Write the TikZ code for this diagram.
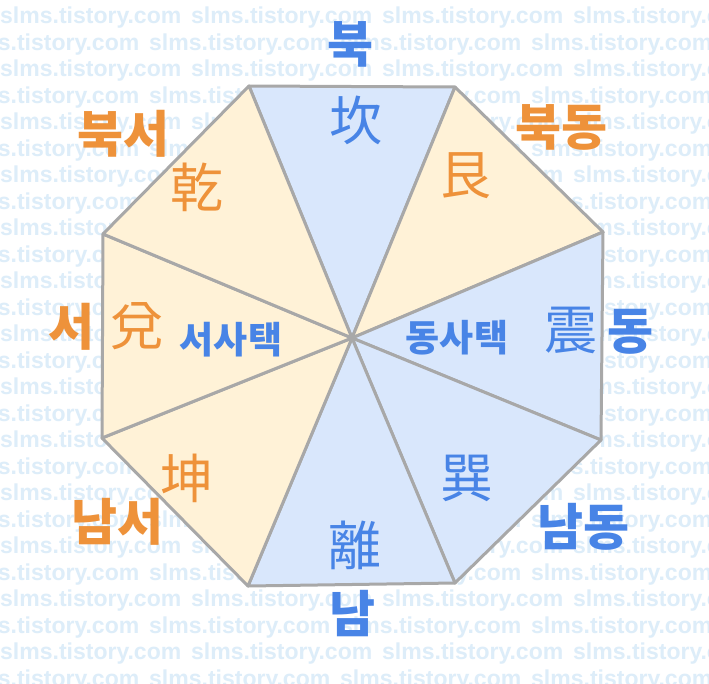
\documentclass[tikz,border=0pt]{standalone}
\usepackage{fontspec}
\newfontfamily\krfont{Noto Sans CJK KR}
\newfontfamily\markfont{Liberation Sans}
\usepackage{xcolor}
\definecolor{Orange}{RGB}{238,146,58}
\definecolor{Blue}{RGB}{72,132,230}
\definecolor{Cream}{RGB}{255,242,215}
\definecolor{SkyBlue}{RGB}{217,231,252}
\definecolor{Edge}{RGB}{168,168,168}
\definecolor{Mark}{RGB}{221,237,249}
\usepackage{tikz}

\tikzset{
	mark text/.style={anchor=west, inner sep=0pt, color=Mark, font=\markfont\bfseries\fontsize{23}{23}\selectfont},
	direction/.style={inner sep=0pt, font=\krfont\bfseries\fontsize{50}{50}\selectfont},
	trigram/.style={inner sep=0pt, font=\krfont\fontsize{53}{53}\selectfont},
	house/.style={inner sep=0pt, color=Blue, font=\krfont\bfseries\fontsize{37}{37}\selectfont},
	wedge/.style={draw=Edge, line width=3pt, line join=round}
}

\begin{document}
\begin{tikzpicture}[x=1pt, y=-1pt]

		\fill[white] (0,0) rectangle (709,683);
		\useasboundingbox (0,0) rectangle (709,683);

		% Watermark
		\foreach \row in {0,...,25} {
			\pgfmathsetmacro{\shift}{-42*mod(\row,2)}
			\foreach \col in {0,...,4} {
				\node[mark text] (mark-\row-\col) at ({\shift+191*\col}, {18+26.5*\row}) {slms.tistory.com};
			}
		}

		% Corners
		\coordinate (O) at (352,338);
		\coordinate (N1) at (249,86);
		\coordinate (N2) at (455,87);
		\coordinate (E1) at (603,232);
		\coordinate (E2) at (601,440);
		\coordinate (S2) at (455,583);
		\coordinate (S1) at (248,586);
		\coordinate (W2) at (102,438);
		\coordinate (W1) at (103,234);

		% Wedges
		\filldraw [wedge, fill=SkyBlue] (O) -- (N1) -- (N2) -- cycle;
		\filldraw [wedge, fill=Cream] (O) -- (N2) -- (E1) -- cycle;
		\filldraw [wedge, fill=SkyBlue] (O) -- (E1) -- (E2) -- cycle;
		\filldraw [wedge, fill=SkyBlue] (O) -- (E2) -- (S2) -- cycle;
		\filldraw [wedge, fill=SkyBlue] (O) -- (S2) -- (S1) -- cycle;
		\filldraw [wedge, fill=Cream] (O) -- (S1) -- (W2) -- cycle;
		\filldraw [wedge, fill=Cream] (O) -- (W2) -- (W1) -- cycle;
		\filldraw [wedge, fill=Cream] (O) -- (W1) -- (N1) -- cycle;

		% Directions
		\node[direction, color=Blue] (north) at (350,44) {북};
		\node[direction, color=Orange] (northeast) at (561,127) {북동};
		\node[direction, color=Blue] (east) at (630,332) {동};
		\node[direction, color=Blue] (southeast) at (583,527) {남동};
		\node[direction, color=Blue] (south) at (352,614) {남};
		\node[direction, color=Orange] (southwest) at (117,522) {남서};
		\node[direction, color=Orange] (west) at (71,327) {서};
		\node[direction, color=Orange] (northwest) at (123,134) {북서};

		% Trigrams
		\node[trigram, color=Blue] (kan) at (356,120) {坎};
		\node[trigram, color=Orange] (gen) at (466,176) {艮};
		\node[trigram, color=Blue] (zhen) at (571,330) {震};
		\node[trigram, color=Blue] (xun) at (467,478) {巽};
		\node[trigram, color=Blue] (li) at (355,545) {離};
		\node[trigram, color=Orange] (kun) at (187,478) {坤};
		\node[trigram, color=Orange] (dui) at (137,326) {兌};
		\node[trigram, color=Orange] (qian) at (197,187) {乾};

		% Houses
		\node[house] (westhouse) at (231,340) {서사택};
		\node[house] (easthouse) at (457,338) {동사택};

	\end{tikzpicture}
\end{document}
